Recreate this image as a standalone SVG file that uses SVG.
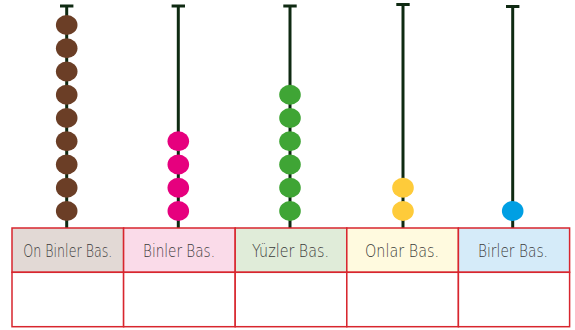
<svg xmlns="http://www.w3.org/2000/svg" width="575" height="330" viewBox="0 0 575 330">
<style>
.rod{stroke:#0f2a12;stroke-width:3;fill:none}
.cap{stroke:#0f2a12;stroke-width:3}
.cell{stroke:#d8262e;stroke-width:1.5}
.lbl{font-family:"DejaVu Sans","Liberation Sans",sans-serif;font-weight:200;font-size:17px;fill:#3a3a3a;text-anchor:middle}
.br{fill:#6b3e26}.pk{fill:#e6007e}.gr{fill:#3fa535}.ye{fill:#fecb3a}.bl{fill:#009fe3}
</style>
<rect width="575" height="330" fill="#fff"/>
<g id="rods">
<g id="rod1"><line class="rod" x1="66.7" y1="6" x2="66.7" y2="228"/><line class="cap" x1="60" y1="6" x2="73.4" y2="6"/>
<ellipse class="br" cx="66.7" cy="25" rx="10.8" ry="10"/><ellipse class="br" cx="66.7" cy="48.3" rx="10.8" ry="10"/><ellipse class="br" cx="66.7" cy="71.5" rx="10.8" ry="10"/><ellipse class="br" cx="66.7" cy="94.8" rx="10.8" ry="10"/><ellipse class="br" cx="66.7" cy="118" rx="10.8" ry="10"/><ellipse class="br" cx="66.7" cy="141.3" rx="10.8" ry="10"/><ellipse class="br" cx="66.7" cy="164.5" rx="10.8" ry="10"/><ellipse class="br" cx="66.7" cy="187.8" rx="10.8" ry="10"/><ellipse class="br" cx="66.7" cy="211" rx="10.8" ry="10"/></g>
<g id="rod2"><line class="rod" x1="178.3" y1="6" x2="178.3" y2="228"/><line class="cap" x1="171.6" y1="6" x2="185" y2="6"/>
<ellipse class="pk" cx="178.3" cy="141.3" rx="10.8" ry="10"/><ellipse class="pk" cx="178.3" cy="164.5" rx="10.8" ry="10"/><ellipse class="pk" cx="178.3" cy="187.8" rx="10.8" ry="10"/><ellipse class="pk" cx="178.3" cy="211" rx="10.8" ry="10"/></g>
<g id="rod3"><line class="rod" x1="290" y1="6" x2="290" y2="228"/><line class="cap" x1="283.3" y1="6" x2="296.7" y2="6"/>
<ellipse class="gr" cx="290" cy="94.8" rx="10.8" ry="10"/><ellipse class="gr" cx="290" cy="118" rx="10.8" ry="10"/><ellipse class="gr" cx="290" cy="141.3" rx="10.8" ry="10"/><ellipse class="gr" cx="290" cy="164.5" rx="10.8" ry="10"/><ellipse class="gr" cx="290" cy="187.8" rx="10.8" ry="10"/><ellipse class="gr" cx="290" cy="211" rx="10.8" ry="10"/></g>
<g id="rod4"><line class="rod" x1="403" y1="4.5" x2="403" y2="228"/><line class="cap" x1="396.3" y1="4.5" x2="409.7" y2="4.5"/>
<ellipse class="ye" cx="403" cy="187.8" rx="10.8" ry="10"/><ellipse class="ye" cx="403" cy="211" rx="10.8" ry="10"/></g>
<g id="rod5"><line class="rod" x1="512.7" y1="6.5" x2="512.7" y2="228"/><line class="cap" x1="506" y1="6.5" x2="519.4" y2="6.5"/>
<ellipse class="bl" cx="512.7" cy="211" rx="10.8" ry="10"/></g>
</g>
<g id="table">
<rect class="cell" x="12" y="228" width="111.6" height="44.3" fill="#e2d9d5"/>
<rect class="cell" x="123.6" y="228" width="111.6" height="44.3" fill="#fadbe9"/>
<rect class="cell" x="235.2" y="228" width="111.6" height="44.3" fill="#e0ecd9"/>
<rect class="cell" x="346.8" y="228" width="111.6" height="44.3" fill="#fffadf"/>
<rect class="cell" x="458.4" y="228" width="111.2" height="44.3" fill="#d5ebf9"/>
<rect class="cell" x="12" y="272.3" width="111.6" height="54.4" fill="#fff"/>
<rect class="cell" x="123.6" y="272.3" width="111.6" height="54.4" fill="#fff"/>
<rect class="cell" x="235.2" y="272.3" width="111.6" height="54.4" fill="#fff"/>
<rect class="cell" x="346.8" y="272.3" width="111.6" height="54.4" fill="#fff"/>
<rect class="cell" x="458.4" y="272.3" width="111.2" height="54.4" fill="#fff"/>
<text class="lbl" x="67.8" y="257" textLength="89" lengthAdjust="spacingAndGlyphs">On Binler Bas.</text>
<text class="lbl" x="179" y="257" textLength="72" lengthAdjust="spacingAndGlyphs">Binler Bas.</text>
<text class="lbl" x="290.5" y="257" textLength="77" lengthAdjust="spacingAndGlyphs">Yüzler Bas.</text>
<text class="lbl" x="402" y="257" textLength="74" lengthAdjust="spacingAndGlyphs">Onlar Bas.</text>
<text class="lbl" x="513" y="257" textLength="70" lengthAdjust="spacingAndGlyphs">Birler Bas.</text>
</g>
</svg>
